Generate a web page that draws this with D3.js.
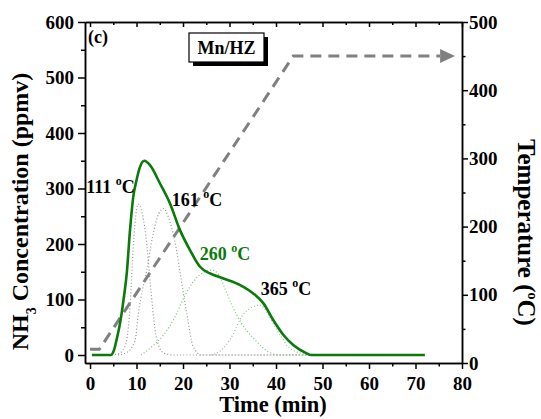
<!DOCTYPE html>
<html>
<head>
<meta charset="utf-8">
<script src="https://cdn.jsdelivr.net/npm/d3@7"></script>
<style>
  html, body { margin: 0; padding: 0; background: #fff; }
  svg { display: block; }
  text { font-family: "Liberation Serif", "Times New Roman", serif; font-weight: bold; fill: #000; }
</style>
</head>
<body>
<svg id="chart" width="541" height="419"></svg>
<script>
// ---- data ----
// Total NH3 desorption signal (min, ppmv)
const totalTime = [0.4, 4.5, 5.2, 5.7, 6.45, 7.2, 7.9, 8.6, 9.3, 10.0, 10.75, 11.7, 12.9, 15.05, 17.2, 19.35, 21.5, 23.65, 25.8, 28.7, 32.3, 35.1, 37.3, 39.4, 41.6, 43.7, 46.6, 47.5, 72];
const totalConc = [0, 0, 10, 27, 57, 99, 147, 225, 285, 315, 339, 350, 342, 309, 273, 225, 189, 159, 147, 138, 126, 111, 93, 63, 36, 18, 3, 0, 0];

// Deconvoluted peaks
const peak1Time = [4, 6, 7, 7.9, 8.6, 9.3, 10, 10.4, 11, 12, 13, 14, 15, 16, 18, 72];
const peak1Conc = [0, 2, 8, 27, 87, 195, 262, 272, 262, 215, 125, 45, 12, 3, 0, 0];
const peak2Time = [6, 8, 9.7, 10.4, 12.2, 13.5, 14.8, 15.8, 17, 18.6, 19.4, 20.8, 22.2, 24, 72];
const peak2Conc = [0, 5, 27, 75, 153, 215, 255, 264, 245, 189, 147, 75, 15, 0, 0];
const peak3Time = [11, 13.3, 15.8, 18.3, 20.1, 22.2, 24.7, 26.2, 27.8, 29, 30.5, 32.6, 35.5, 38.3, 41, 72];
const peak3Conc = [0, 15, 36, 69, 102, 132, 150, 153, 143, 120, 90, 57, 27, 6, 0, 0];
const peak4Time = [26, 29, 30.8, 32.6, 34.6, 36.6, 38.2, 39.8, 41.2, 42.6, 45.5, 48, 72];
const peak4Conc = [0, 15, 38, 69, 85, 90, 75, 51, 32, 15, 3, 0, 0];

// Temperature program (min, °C)
const tempTime = [0, 2, 43.7, 75.3];
const tempValue = [20, 20, 450, 450];
const arrowTip = 78.5;

const peakLabels = ["111", "161", "260", "365"];
const peakLabelTime = [-0.8, 17.6, 23.6, 36.7];
const peakLabelConc = [292, 268, 171, 108];

const xTicks = [0, 10, 20, 30, 40, 50, 60, 70, 80];
const xMinor = [5, 15, 25, 35, 45, 55, 65, 75];
const yLeftTicks = [0, 100, 200, 300, 400, 500, 600];
const yLeftMinor = [50, 150, 250, 350, 450, 550];
const yRightTicks = [0, 100, 200, 300, 400, 500];
const yRightMinor = [50, 150, 250, 350, 450];

// ---- layout ----
const svg = d3.select("#chart");
const plotLeft = 85, plotRight = 462, plotTop = 22, plotBottom = 363;

const x = d3.scaleLinear().domain([-1.08, 80]).range([plotLeft, plotRight]);
const yL = d3.scaleLinear().domain([-14.4, 600]).range([plotBottom, plotTop]);
const yR = d3.scaleLinear().domain([0, 500]).range([plotBottom, plotTop]);

const lineL = d3.line().x(d => x(d[0])).y(d => yL(d[1])).curve(d3.curveMonotoneX);
const lineR = d3.line().x(d => x(d[0])).y(d => yR(d[1]));

const zip = (a, b) => a.map((v, i) => [v, b[i]]);

// ---- deconvoluted components (dotted) ----
const comps = [
  { t: peak1Time, c: peak1Conc, color: "#959595" },
  { t: peak2Time, c: peak2Conc, color: "#959595" },
  { t: peak3Time, c: peak3Conc, color: "#7cc47c" },
  { t: peak4Time, c: peak4Conc, color: "#98b898" }
];
comps.forEach(cp => {
  svg.append("path")
    .attr("d", lineL(zip(cp.t, cp.c)))
    .attr("fill", "none")
    .attr("stroke", cp.color)
    .attr("stroke-width", 1.2)
    .attr("stroke-dasharray", "1,2.2");
});

// ---- temperature ramp (dashed, right axis) ----
svg.append("path")
  .attr("d", lineR(zip(tempTime, tempValue)))
  .attr("fill", "none")
  .attr("stroke", "#808080")
  .attr("stroke-width", 3)
  .attr("stroke-dasharray", "11,7");
const lastT = tempValue[tempValue.length - 1];
const baseX = x(tempTime[tempTime.length - 1]);
svg.append("path")
  .attr("d", `M${baseX},${yR(lastT) - 7}L${x(arrowTip)},${yR(lastT)}L${baseX},${yR(lastT) + 7}Z`)
  .attr("fill", "#808080");

// ---- total signal ----
svg.append("path")
  .attr("d", lineL(zip(totalTime, totalConc)))
  .attr("fill", "none")
  .attr("stroke", "#0a7a0a")
  .attr("stroke-width", 2.6)
  .attr("stroke-linejoin", "round");

// ---- axes ----
const tickFont = g => g.selectAll("text").style("font-size", "19px").style("font-family", '"Liberation Serif", serif').style("font-weight", "bold");
const axisStyle = g => {
  g.selectAll("path, line").attr("stroke", "#000").attr("stroke-width", 1.5);
};

// left
svg.append("g").attr("transform", `translate(${plotLeft},0)`)
  .call(d3.axisLeft(yL).tickValues(yLeftTicks).tickSize(7).tickSizeOuter(0).tickPadding(4))
  .call(axisStyle).call(tickFont);
svg.append("g").attr("transform", `translate(${plotLeft},0)`)
  .call(d3.axisLeft(yL).tickValues(yLeftMinor).tickSize(4).tickSizeOuter(0).tickFormat(""))
  .call(axisStyle);

// right
svg.append("g").attr("transform", `translate(${plotRight},0)`)
  .call(d3.axisRight(yR).tickValues(yRightTicks).tickSize(6).tickSizeOuter(0).tickPadding(1))
  .call(axisStyle).call(tickFont);
svg.append("g").attr("transform", `translate(${plotRight},0)`)
  .call(d3.axisRight(yR).tickValues(yRightMinor).tickSize(3.5).tickSizeOuter(0).tickFormat(""))
  .call(axisStyle);

// bottom
svg.append("g").attr("transform", `translate(0,${plotBottom})`)
  .call(d3.axisBottom(x).tickValues(xTicks).tickSize(6).tickSizeOuter(0).tickPadding(7.5))
  .call(axisStyle).call(tickFont);
svg.append("g").attr("transform", `translate(0,${plotBottom})`)
  .call(d3.axisBottom(x).tickValues(xMinor).tickSize(3.5).tickSizeOuter(0).tickFormat(""))
  .call(axisStyle);

// top (mirror ticks, inward)
svg.append("g").attr("transform", `translate(0,${plotTop})`)
  .call(d3.axisTop(x).tickValues(xTicks).tickSize(-5).tickSizeOuter(0).tickFormat(""))
  .call(axisStyle);
svg.append("g").attr("transform", `translate(0,${plotTop})`)
  .call(d3.axisTop(x).tickValues(xMinor).tickSize(-3).tickSizeOuter(0).tickFormat(""))
  .call(axisStyle);

// ---- axis titles ----
svg.append("text")
  .attr("x", 273).attr("y", 412)
  .attr("text-anchor", "middle")
  .style("font-size", "22.5px")
  .text("Time (min)");

const yTitle = svg.append("text")
  .attr("transform", "translate(28,211.5) rotate(-90)")
  .attr("text-anchor", "middle")
  .style("font-size", "24px");
yTitle.append("tspan").text("NH");
yTitle.append("tspan").attr("dy", 8).style("font-size", "14px").text("3");
yTitle.append("tspan").attr("dy", -8).text(" Concentration (ppmv)");

const rTitle = svg.append("text")
  .attr("transform", "translate(518,232.5) rotate(90)")
  .attr("text-anchor", "middle")
  .style("font-size", "25px");
rTitle.append("tspan").text("Temperature (");
rTitle.append("tspan").attr("dy", -10).style("font-size", "14px").text("o");
rTitle.append("tspan").attr("dy", 10).text("C)");

// ---- annotations ----
svg.append("text").attr("x", 88).attr("y", 43).style("font-size", "18px").text("(c)");

// sample tag with drop shadow
const tag = { x: 189, y: 33, w: 75, h: 29 };
svg.append("rect").attr("x", tag.x + 4).attr("y", tag.y + 4).attr("width", tag.w).attr("height", tag.h).attr("fill", "#000");
svg.append("rect").attr("x", tag.x).attr("y", tag.y).attr("width", tag.w).attr("height", tag.h)
  .attr("fill", "#fff").attr("stroke", "#000").attr("stroke-width", 1.2);
svg.append("text").attr("x", tag.x + tag.w / 2).attr("y", tag.y + 20.5)
  .attr("text-anchor", "middle").style("font-size", "18px").text("Mn/HZ");

const labelColors = ["#000", "#000", "#0a7a0a", "#000"];
peakLabels.forEach((lab, i) => {
  const t = svg.append("text")
    .attr("x", x(peakLabelTime[i])).attr("y", yL(peakLabelConc[i]))
    .style("font-size", "18px")
    .style("fill", labelColors[i]);
  t.append("tspan").text(lab + " ");
  t.append("tspan").attr("dy", -8).style("font-size", "12px").text("o");
  t.append("tspan").attr("dy", 8).text("C");
});
</script>
</body>
</html>
